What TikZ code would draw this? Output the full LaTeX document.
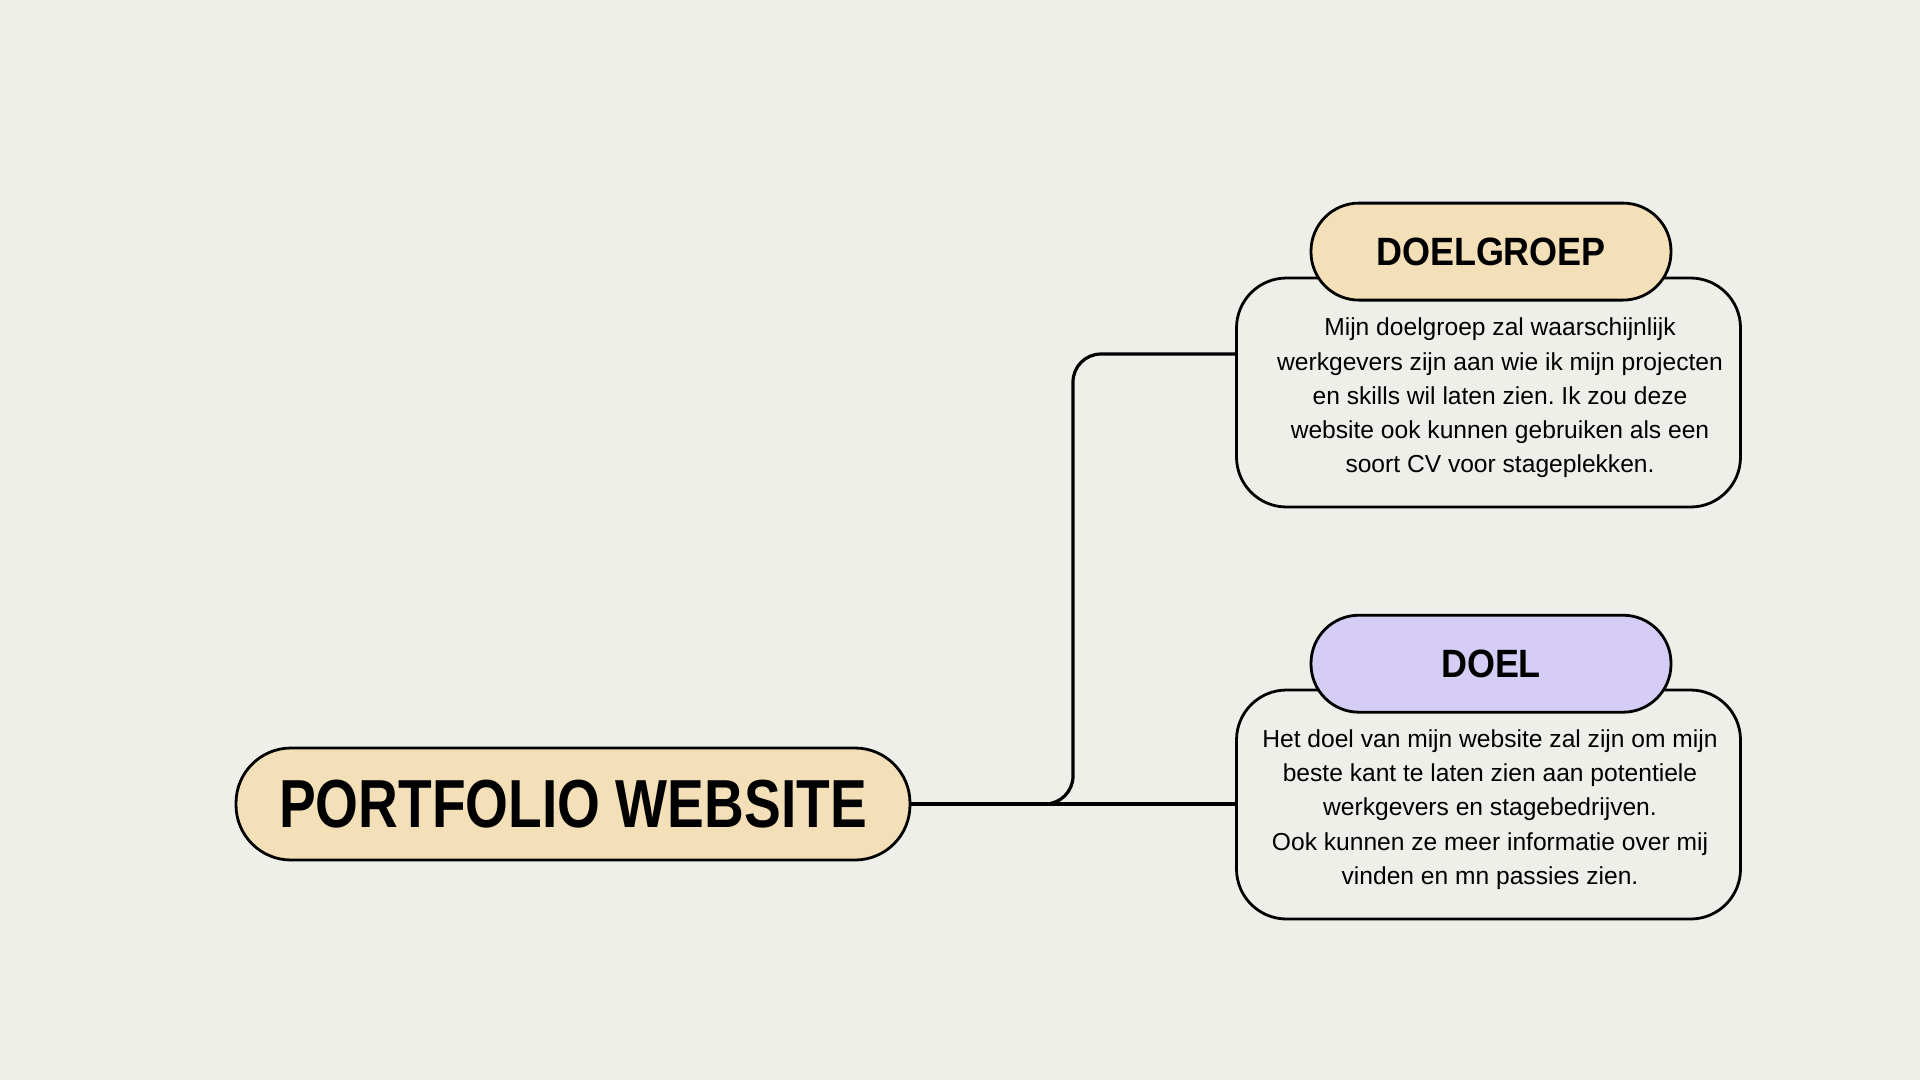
\documentclass[tikz,border=0pt]{standalone}
\usepackage{fontspec}
\setmainfont{Liberation Sans}
\newfontfamily\titlefont[FakeStretch=0.81]{Liberation Sans}
\newfontfamily\headfont[FakeStretch=0.91]{Liberation Sans}
\usetikzlibrary{calc}
\frenchspacing
\definecolor{bg}{RGB}{239,239,233}
\definecolor{beige}{RGB}{243,224,185}
\definecolor{lavender}{RGB}{213,205,245}
\tikzset{
  bodybox/.style={draw=black, line width=2.8pt, fill=bg, rounded corners=50pt,
    minimum width=504pt, minimum height=229pt, inner sep=0pt},
  pillbox/.style={draw=black, line width=2.8pt, rounded corners=48pt,
    minimum width=360pt, minimum height=97pt, inner sep=0pt,
    font=\headfont\bfseries\fontsize{39.5}{39.5}\selectfont},
  mainbox/.style={draw=black, line width=2.8pt, fill=beige, rounded corners=55pt,
    minimum width=674pt, minimum height=112pt, inner sep=0pt,
    font=\titlefont\bfseries\fontsize{68}{68}\selectfont},
  bodytext/.style={align=center, inner sep=0pt, font=\frenchspacing\fontsize{24.6}{34.3}\selectfont},
  link/.style={line width=3.2pt, draw=black}
}
\begin{document}
\begin{tikzpicture}[x=1pt,y=-1pt]
\fill[bg] (0,0) rectangle (1920,1080);
\useasboundingbox (0,0) rectangle (1920,1080);

% main node
\node[mainbox] (main) at (573,804) {PORTFOLIO WEBSITE};

% DOELGROEP
\node[bodybox] (dgbody) at (1488.5,392.5) {};
\node[bodytext] (dgtext) at (1500,398) {Mijn doelgroep zal waarschijnlijk\\werkgevers zijn aan wie ik mijn projecten\\en skills wil laten zien. Ik zou deze\\website ook kunnen gebruiken als een\\soort CV voor stageplekken.};
\node[pillbox, fill=beige] (dghead) at (1491,251.6) {DOELGROEP};

% DOEL
\node[bodybox] (dlbody) at (1488.5,804.5) {};
\node[bodytext] (dltext) at (1490,809.5) {Het doel van mijn website zal zijn om mijn\\beste kant te laten zien aan potentiele\\werkgevers en stagebedrijven.\\Ook kunnen ze meer informatie over mij\\vinden en mn passies zien.};
\node[pillbox, fill=lavender] (dlhead) at (1491,663.7) {DOEL};

% connectors
\coordinate (jx) at (1073,0);
\coordinate (dgt) at ([yshift=38.5pt]dgbody.west);
\draw[link, rounded corners=28pt] (main.east) -| (jx |- dgt) -- (dgt);
\draw[link] (main.east) -- (main.east -| dlbody.west);
\end{tikzpicture}
\end{document}
